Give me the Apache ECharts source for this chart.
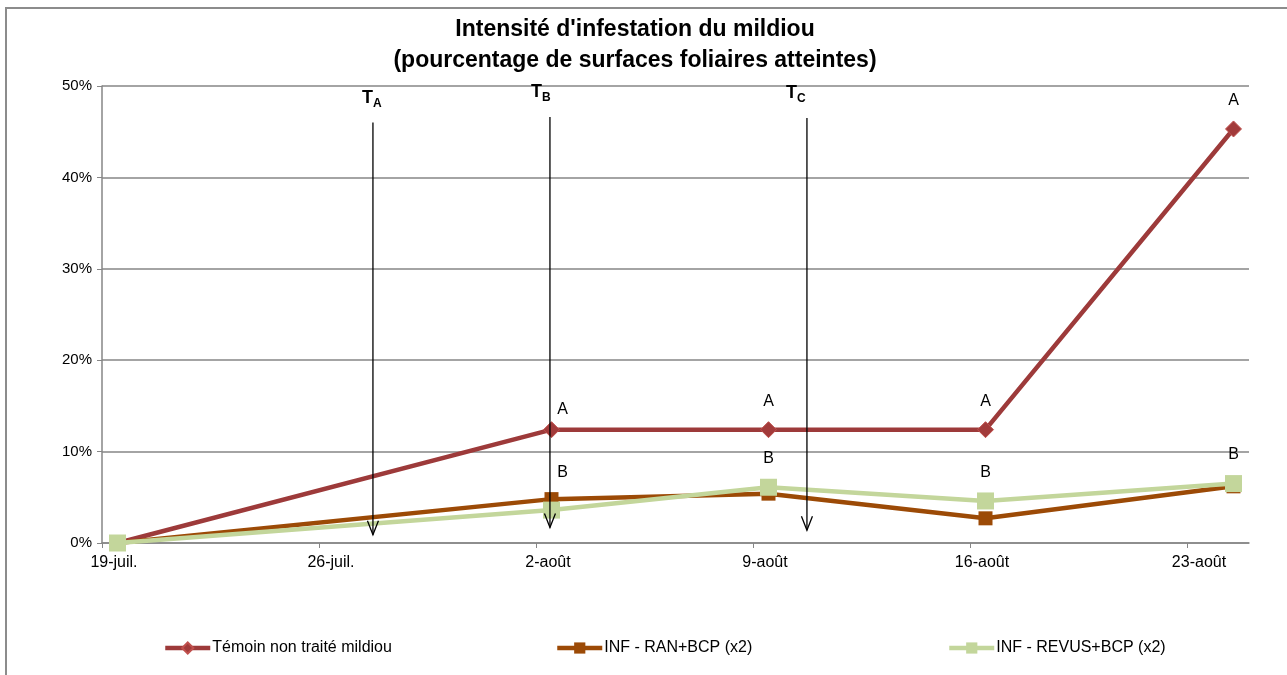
<!DOCTYPE html>
<html lang="fr">
<head>
    <meta charset="UTF-8">
    <title>Intensité d'infestation du mildiou</title>
    <script src="https://cdn.jsdelivr.net/npm/echarts@6/dist/echarts.min.js"></script>
    <style>
        html, body { margin: 0; padding: 0; background: #fff; }
        #main { width: 1287px; height: 675px; }
    </style>
</head>
<body>
<div id="main"></div>
<script type="text/javascript">

    // axe des x : jours depuis le 19 juillet (chaque jour = une case)
    var xTickLabels = ['19-juil.', '26-juil.', '2-août', '9-août', '16-août', '23-août']
    var sampleDays = [0, 14, 21, 28, 36]

    // intensité en %
    var temoin = [0, 12.4, 12.4, 12.4, 45.3]
    var ranBcp = [0, 4.8, 5.4, 2.7, 6.2]
    var revusBcp = [0, 3.6, 6.1, 4.6, 6.5]

    // lettres de groupes statistiques
    var temoinLetters = ['', 'A', 'A', 'A', 'A']
    var revusLetters = ['', 'B', 'B', 'B', 'B']

    // traitements T_A, T_B, T_C
    var treatNames = ['A', 'B', 'C']
    var treatDays = [8.24, 13.95, 22.24]
    var arrowTop = [46.0, 46.6, 46.5]
    var arrowBottom = [0.9, 1.7, 1.4]

    var seriesNames = ['Témoin non traité mildiou', 'INF - RAN+BCP (x2)', 'INF - REVUS+BCP (x2)']

    var font = "'Liberation Sans', Arial, sans-serif"

    function points(values, letters, shifts) {
        var out = []
        for (var i = 0; i < values.length; i++) {
            var item = { value: [sampleDays[i] + 0.5, values[i]] }
            if (letters) {
                item.label = { formatter: letters[i] }
                if (shifts && shifts[i]) item.label.offset = shifts[i]
            }
            out.push(item)
        }
        return out
    }

    var arrowData = []
    for (var i = 0; i < treatNames.length; i++) {
        arrowData.push([treatDays[i] + 0.5, arrowTop[i], arrowBottom[i], i])
    }
    var labelDx = [-1, -9, -11]

    var letterLabel = {
        show: true,
        position: 'top',
        distance: 12,
        color: '#000',
        fontSize: 16,
        fontFamily: font
    }

    var myChart = echarts.init(document.getElementById('main'))

    var option = {
        animation: false,
        backgroundColor: '#fff',
        textStyle: { fontFamily: font, color: '#000' },
        title: {
            text: "Intensité d'infestation du mildiou\n(pourcentage de surfaces foliaires atteintes)",
            left: 630,
            textAlign: 'center',
            top: 9,
            textStyle: { fontSize: 23, fontWeight: 'bold', lineHeight: 31, color: '#000', fontFamily: font }
        },
        graphic: [{
            type: 'polyline',
            shape: { points: [[6, 680], [6, 8], [1290, 8]] },
            style: { stroke: '#8c8c8c', lineWidth: 2, fill: null },
            silent: true
        }],
        legend: [0, 1, 2].map(function (k) {
            return {
                data: [seriesNames[k]],
                left: [158, 550, 942][k],
                top: 635,
                itemWidth: 45,
                itemHeight: 14,
                itemGap: 0,
                lineStyle: { width: 4.5 },
                textStyle: { fontSize: 16, color: '#000', fontFamily: font, padding: [0, 0, 0, -3] }
            }
        }),
        grid: { left: 102, right: 38, top: 86, bottom: 132 },
        xAxis: {
            type: 'value',
            min: 0,
            max: 37,
            interval: 7,
            splitLine: { show: false },
            axisLine: { show: true, lineStyle: { color: '#868686', width: 1.5 } },
            axisTick: { show: true, length: 5, customValues: [0, 7, 14, 21, 28, 35], lineStyle: { color: '#868686' } },
            axisLabel: {
                customValues: [0, 7, 14, 21, 28, 35],
                formatter: function (v) { return xTickLabels[Math.round(v / 7)] || '' },
                fontSize: 16,
                color: '#000',
                margin: 12,
                padding: [0, 0, 0, 24]
            }
        },
        yAxis: {
            type: 'value',
            min: 0,
            max: 50,
            interval: 10,
            axisLine: { show: true, lineStyle: { color: '#868686', width: 1.5 } },
            axisTick: { show: true, length: 5, lineStyle: { color: '#868686' } },
            splitLine: { lineStyle: { color: '#868686', width: 1.5 } },
            axisLabel: { formatter: '{value}%', fontSize: 15, color: '#000', margin: 10 }
        },
        series: [
            {
                name: seriesNames[0],
                type: 'line',
                data: points(temoin, temoinLetters, [null, [11, 8]]),
                symbol: 'diamond',
                symbolSize: 16,
                lineStyle: { color: '#9d3a3a', width: 4.5 },
                itemStyle: { color: '#a23b3b', borderColor: '#c0504d', borderWidth: 1 },
                label: letterLabel,
                z: 3
            },
            {
                name: seriesNames[1],
                type: 'line',
                data: points(ranBcp),
                symbol: 'rect',
                symbolSize: 14,
                lineStyle: { color: '#9c4a06', width: 4.5 },
                itemStyle: { color: '#9c4a06' },
                z: 4
            },
            {
                name: seriesNames[2],
                type: 'line',
                data: points(revusBcp, revusLetters, [null, [11, -9]]),
                symbol: 'rect',
                symbolSize: 17,
                lineStyle: { color: '#c3d69b', width: 4.5 },
                itemStyle: { color: '#c3d69b' },
                label: letterLabel,
                z: 5
            },
            {
                type: 'custom',
                silent: true,
                z: 10,
                data: arrowData,
                renderItem: function (params, api) {
                    var top = api.coord([api.value(0), api.value(1)])
                    var bot = api.coord([api.value(0), api.value(2)])
                    var k = api.value(3)
                    return {
                        type: 'group',
                        children: [
                            {
                                type: 'line',
                                shape: { x1: top[0], y1: top[1], x2: bot[0], y2: bot[1] },
                                style: { stroke: '#000', lineWidth: 1.3 }
                            },
                            {
                                type: 'polyline',
                                shape: { points: [[bot[0] - 5.5, bot[1] - 14], [bot[0], bot[1]], [bot[0] + 5.5, bot[1] - 14]] },
                                style: { stroke: '#000', lineWidth: 1.3, fill: null }
                            },
                            {
                                type: 'text',
                                x: top[0] + labelDx[k],
                                y: top[1] - 13,
                                style: {
                                    text: '{t|T}{s|' + treatNames[k] + '}',
                                    align: 'center',
                                    verticalAlign: 'bottom',
                                    fontFamily: font,
                                    rich: {
                                        t: { fontSize: 18, fontWeight: 'bold', fill: '#000', verticalAlign: 'bottom', padding: [0, 0, 3, 0], fontFamily: font },
                                        s: { fontSize: 12, fontWeight: 'bold', fill: '#000', verticalAlign: 'bottom', fontFamily: font }
                                    }
                                }
                            }
                        ]
                    }
                }
            }
        ]
    }

    myChart.setOption(option)

</script>
</body>
</html>
